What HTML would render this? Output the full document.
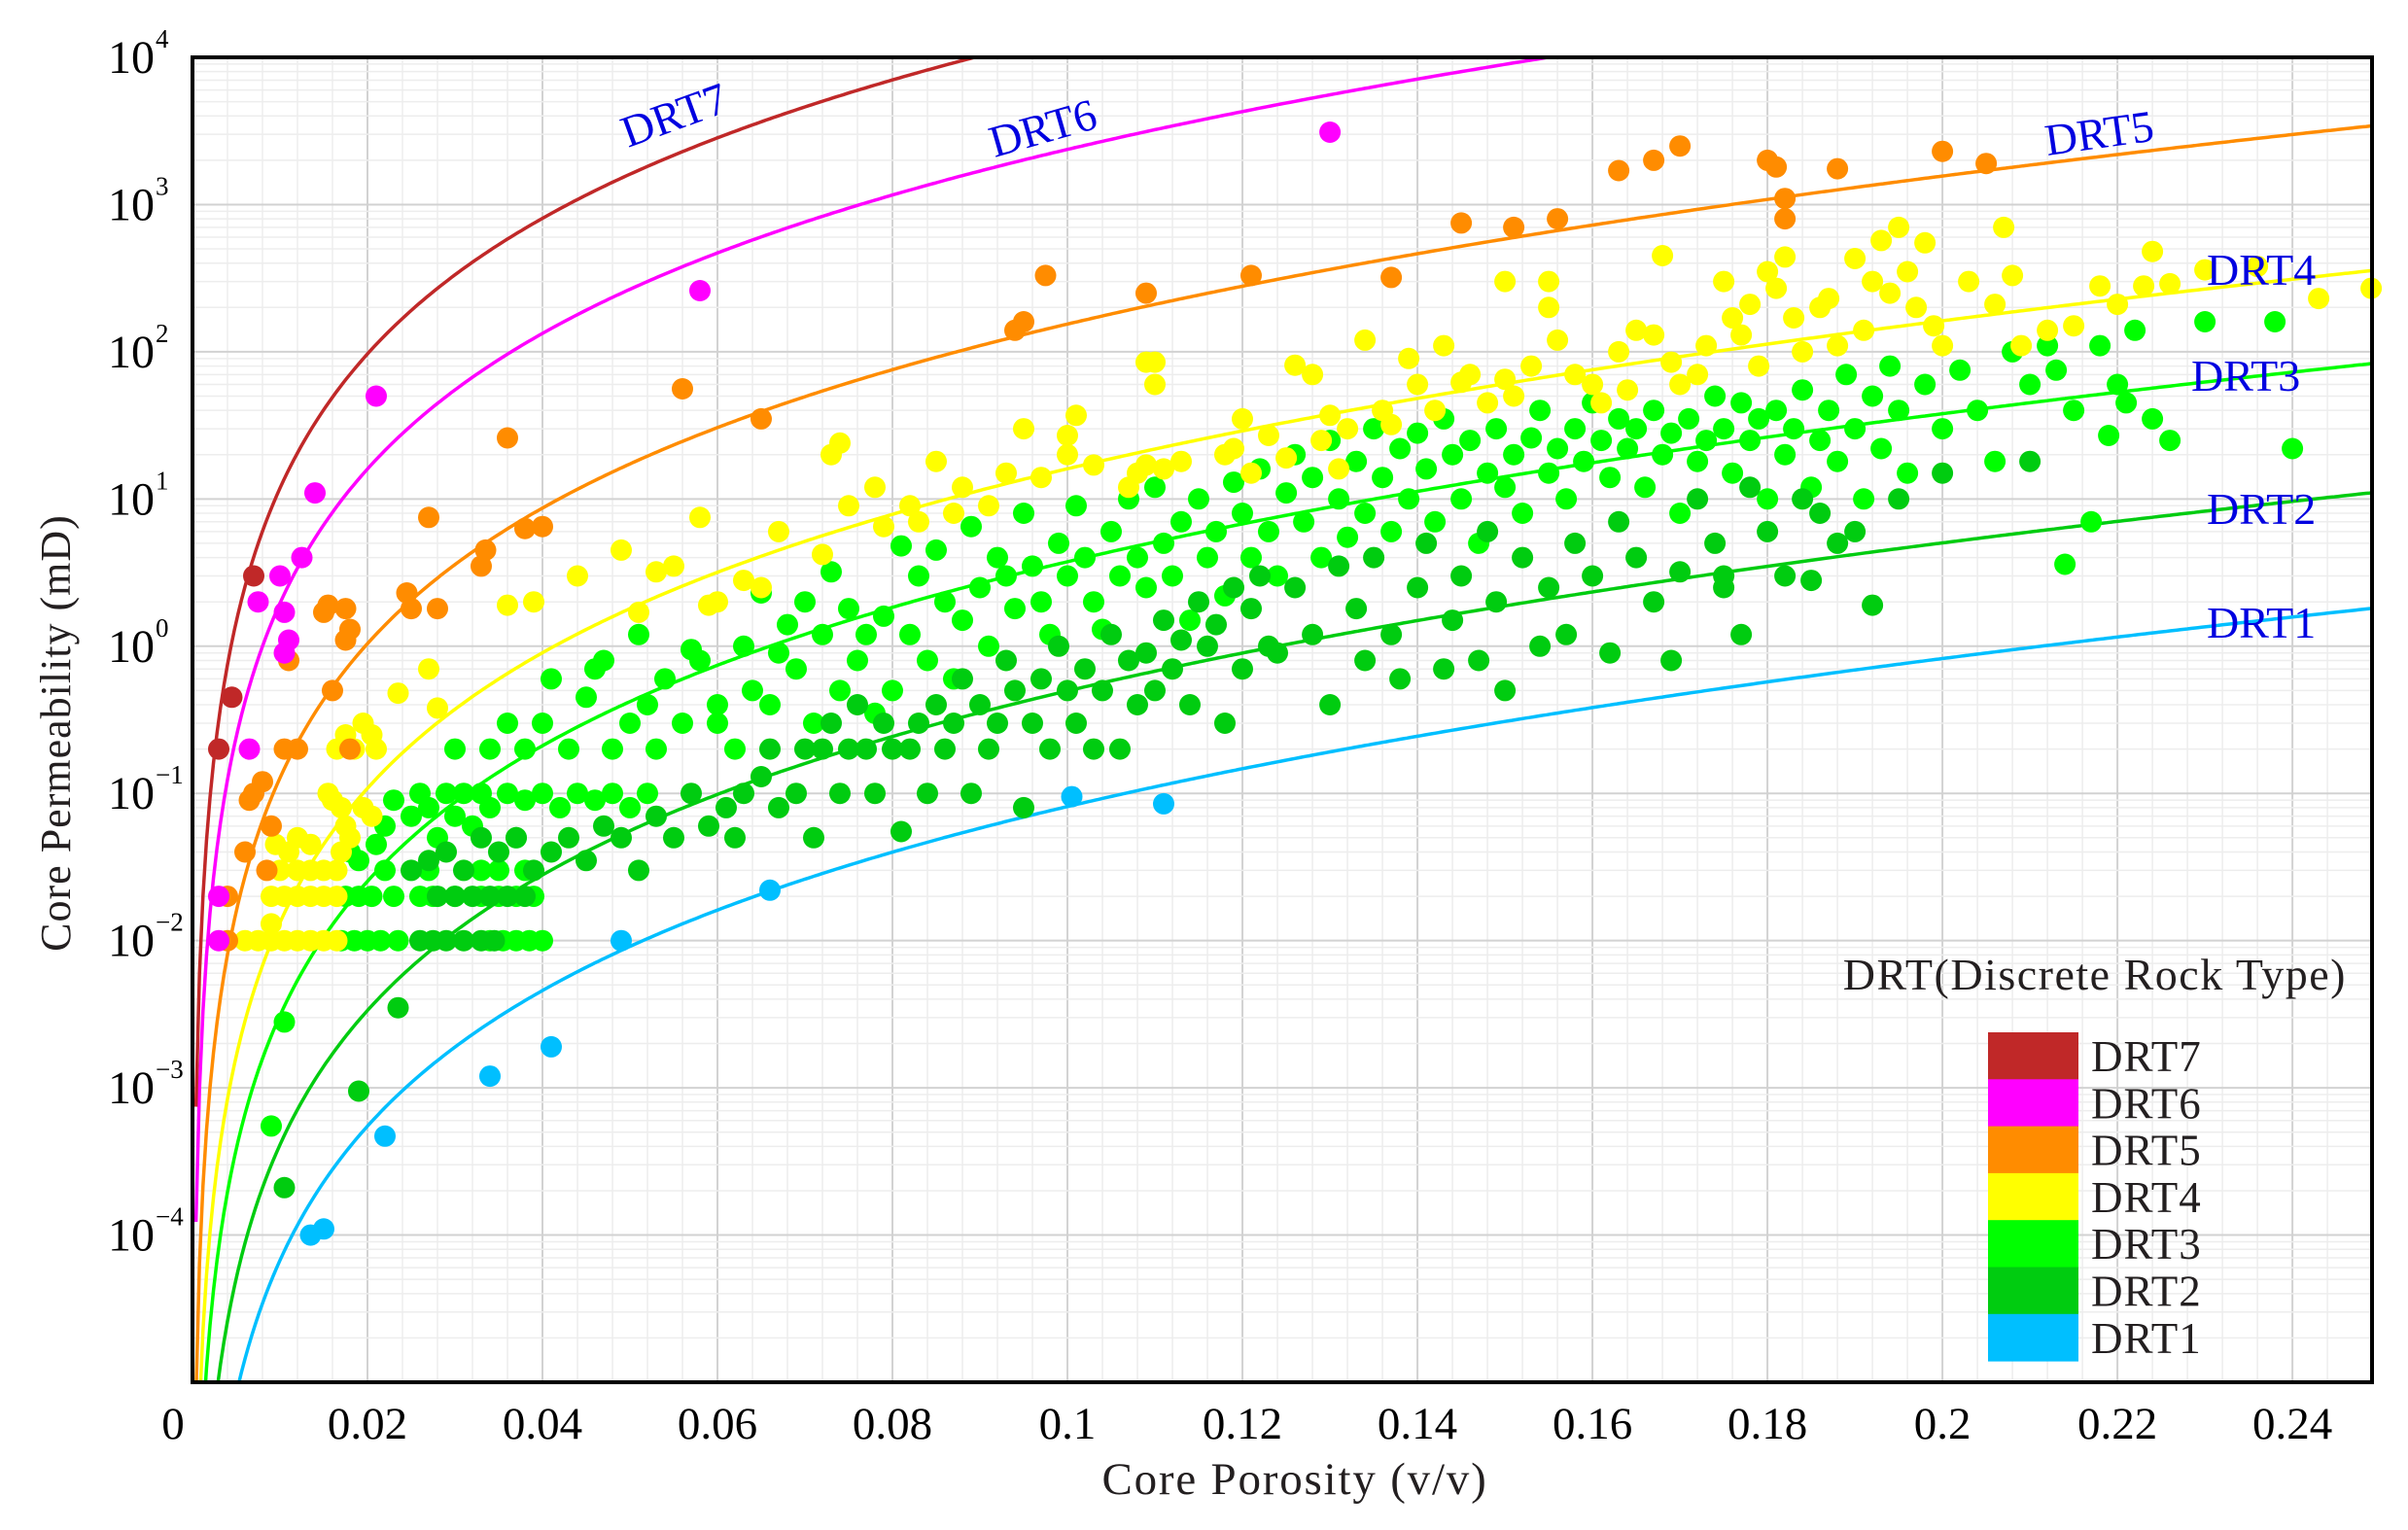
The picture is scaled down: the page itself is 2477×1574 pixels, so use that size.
<!DOCTYPE html>
<html><head><meta charset="utf-8"><style>
html,body{margin:0;padding:0;background:#fff;}
svg{display:block;font-family:"Liberation Serif",serif;}
</style></head><body>
<svg id="chart" width="2477" height="1574" viewBox="0 0 2477 1574" xmlns="http://www.w3.org/2000/svg">
<rect x="0" y="0" width="2477" height="1574" fill="#fff"/>
<g id="grid"></g>
<g id="curves"></g>
<g id="points"></g>
<g id="labels"></g>
<rect x="198" y="59" width="2242" height="1363" fill="none" stroke="#000" stroke-width="4"/>
<g id="ticks"></g>
<text x="1332" y="1537" font-size="47" text-anchor="middle" fill="#231f20" letter-spacing="1.8">Core Porosity (v/v)</text>
<text transform="translate(72,754) rotate(-90)" font-size="44" text-anchor="middle" fill="#231f20" letter-spacing="1">Core Permeability (mD)</text>
<g id="legend"></g>
</svg>
<script>
const xTicks=[0,0.02,0.04,0.06,0.08,0.1,0.12,0.14,0.16,0.18,0.2,0.22,0.24];
const xTickLabels=["0","0.02","0.04","0.06","0.08","0.1","0.12","0.14","0.16","0.18","0.2","0.22","0.24"];
const yTickExps=[4,3,2,1,0,-1,-2,-3,-4];
const classNames=["DRT1","DRT2","DRT3","DRT4","DRT5","DRT6","DRT7"];
const classColors=["#00bfff","#00cc10","#00ff00","#ffff00","#ff8c00","#ff00ff","#c02828"];
const fziValues=[0.255,0.63,1.73,3.58,11.1,43.5,107];
const drt7=[[0.003,0.2],[0.0045,0.45],[0.007,3]];
const drt6=[[0.003,0.01],[0.003,0.02],[0.0065,0.2],[0.0075,2],[0.01,3],[0.0105,1.7],[0.0105,0.9],[0.011,1.1],[0.0125,4],[0.014,11],[0.021,50],[0.058,260],[0.13,3100]];
const drt5=[[0.004,0.01],[0.004,0.02],[0.006,0.04],[0.0065,0.09],[0.0085,0.03],[0.009,0.06],[0.008,0.12],[0.007,0.1],[0.0105,0.2],[0.011,0.8],[0.012,0.2],[0.015,1.7],[0.0155,1.9],[0.016,0.5],[0.0175,1.8],[0.018,1.3],[0.0175,1.1],[0.018,0.2],[0.0245,2.3],[0.025,1.8],[0.027,7.5],[0.028,1.8],[0.033,3.5],[0.0335,4.5],[0.036,26],[0.038,6.3],[0.04,6.5],[0.056,56],[0.065,35],[0.094,140],[0.095,160],[0.0975,330],[0.109,250],[0.121,330],[0.137,320],[0.145,750],[0.151,700],[0.156,800],[0.163,1700],[0.167,2000],[0.17,2500],[0.18,2000],[0.181,1800],[0.182,1100],[0.182,800],[0.188,1750],[0.2,2300],[0.205,1900]];
const drt4=[[0.006,0.01],[0.0075,0.01],[0.009,0.01],[0.0105,0.01],[0.012,0.01],[0.0135,0.01],[0.015,0.01],[0.0165,0.01],[0.009,0.02],[0.0105,0.02],[0.012,0.02],[0.0135,0.02],[0.015,0.02],[0.0165,0.02],[0.01,0.03],[0.012,0.03],[0.0135,0.03],[0.015,0.03],[0.0165,0.03],[0.009,0.013],[0.0095,0.045],[0.011,0.04],[0.012,0.05],[0.0135,0.045],[0.017,0.04],[0.018,0.05],[0.0175,0.06],[0.0155,0.1],[0.016,0.09],[0.017,0.08],[0.0195,0.08],[0.0205,0.07],[0.0165,0.2],[0.0185,0.2],[0.0195,0.3],[0.0175,0.25],[0.021,0.2],[0.0205,0.25],[0.0235,0.48],[0.027,0.7],[0.028,0.38],[0.036,1.9],[0.039,2],[0.044,3],[0.049,4.5],[0.051,1.7],[0.053,3.2],[0.055,3.5],[0.058,7.5],[0.06,2],[0.059,1.9],[0.063,2.8],[0.065,2.5],[0.067,6],[0.072,4.2],[0.073,20],[0.074,24],[0.075,9],[0.078,12],[0.079,6.5],[0.082,9],[0.083,7],[0.085,18],[0.087,8],[0.088,12],[0.091,9],[0.093,15],[0.095,30],[0.097,14],[0.1,27],[0.1,20],[0.101,37],[0.103,17],[0.107,12],[0.108,15],[0.109,85],[0.11,85],[0.11,60],[0.109,17],[0.111,16],[0.113,18],[0.118,20],[0.119,22],[0.12,35],[0.121,15],[0.123,27],[0.125,19],[0.126,81],[0.128,70],[0.129,25],[0.13,37],[0.131,16],[0.132,30],[0.134,120],[0.136,40],[0.137,32],[0.139,90],[0.14,60],[0.142,40],[0.143,110],[0.145,62],[0.146,70],[0.148,45],[0.15,300],[0.15,65],[0.151,50],[0.153,80],[0.155,300],[0.155,200],[0.156,120],[0.158,70],[0.16,60],[0.161,45],[0.163,100],[0.164,55],[0.165,140],[0.167,130],[0.168,450],[0.169,85],[0.17,60],[0.172,70],[0.173,110],[0.175,300],[0.176,170],[0.177,130],[0.178,210],[0.179,80],[0.18,350],[0.181,270],[0.182,440],[0.183,170],[0.184,100],[0.186,200],[0.187,230],[0.188,110],[0.19,430],[0.191,140],[0.192,300],[0.193,570],[0.194,250],[0.195,700],[0.196,350],[0.197,200],[0.198,550],[0.199,150],[0.2,110],[0.203,300],[0.206,210],[0.207,700],[0.208,330],[0.209,110],[0.212,140],[0.215,150],[0.218,280],[0.22,210],[0.223,280],[0.224,480],[0.226,290],[0.23,360],[0.236,380],[0.243,230],[0.249,270]];
const drt3=[[0.009,5.5e-4],[0.0105,2.8e-3],[0.017,0.01],[0.0185,0.01],[0.02,0.01],[0.0215,0.01],[0.0235,0.01],[0.034,0.01],[0.0355,0.01],[0.037,0.01],[0.0385,0.01],[0.04,0.01],[0.0175,0.02],[0.019,0.02],[0.0205,0.02],[0.023,0.02],[0.026,0.02],[0.0275,0.02],[0.03,0.02],[0.033,0.02],[0.035,0.02],[0.037,0.02],[0.039,0.02],[0.022,0.03],[0.027,0.03],[0.033,0.03],[0.035,0.03],[0.038,0.03],[0.018,0.04],[0.019,0.035],[0.021,0.045],[0.022,0.06],[0.023,0.09],[0.025,0.07],[0.026,0.1],[0.027,0.08],[0.028,0.05],[0.029,0.1],[0.03,0.07],[0.031,0.1],[0.032,0.06],[0.033,0.1],[0.034,0.08],[0.036,0.1],[0.037,0.05],[0.038,0.09],[0.04,0.1],[0.042,0.08],[0.044,0.1],[0.046,0.09],[0.048,0.1],[0.05,0.08],[0.052,0.1],[0.03,0.2],[0.034,0.2],[0.036,0.3],[0.038,0.2],[0.04,0.3],[0.041,0.6],[0.043,0.2],[0.045,0.45],[0.046,0.7],[0.047,0.8],[0.048,0.2],[0.05,0.3],[0.051,1.2],[0.052,0.4],[0.053,0.2],[0.054,0.6],[0.056,0.3],[0.057,0.95],[0.058,0.8],[0.06,0.4],[0.06,0.3],[0.062,0.2],[0.063,1.0],[0.064,0.5],[0.065,2.3],[0.066,0.4],[0.067,0.9],[0.068,1.4],[0.069,0.7],[0.07,2],[0.071,0.3],[0.072,1.2],[0.073,3.2],[0.074,0.5],[0.075,1.8],[0.076,0.8],[0.077,1.2],[0.078,0.35],[0.079,1.6],[0.08,0.5],[0.081,4.8],[0.082,1.2],[0.083,3],[0.084,0.8],[0.085,4.5],[0.086,2],[0.087,0.6],[0.088,1.5],[0.089,6.5],[0.09,2.5],[0.091,1],[0.092,4],[0.093,3],[0.094,1.8],[0.095,8],[0.096,3.5],[0.097,2],[0.098,1.2],[0.099,5],[0.1,3],[0.101,9],[0.102,4],[0.103,2],[0.104,1.3],[0.105,6],[0.106,3],[0.107,10],[0.108,4],[0.109,2.5],[0.11,12],[0.111,5],[0.112,3],[0.113,7],[0.114,1.5],[0.115,10],[0.116,4],[0.117,6],[0.118,2.2],[0.119,13],[0.12,8],[0.121,4],[0.122,16],[0.123,6],[0.124,3],[0.125,11],[0.126,20],[0.127,7],[0.128,14],[0.129,4],[0.13,25],[0.131,10],[0.132,5.5],[0.133,18],[0.134,8],[0.135,30],[0.136,14],[0.137,6],[0.138,22],[0.139,10],[0.14,28],[0.141,16],[0.142,7],[0.143,35],[0.144,20],[0.145,10],[0.146,25],[0.147,5],[0.148,15],[0.149,30],[0.15,12],[0.151,20],[0.152,8],[0.153,26],[0.154,40],[0.155,15],[0.156,22],[0.157,10],[0.158,30],[0.159,18],[0.16,45],[0.161,25],[0.162,14],[0.163,35],[0.164,22],[0.165,30],[0.166,12],[0.167,40],[0.168,20],[0.169,28],[0.17,8],[0.171,35],[0.172,18],[0.173,25],[0.174,50],[0.175,30],[0.176,15],[0.177,45],[0.178,25],[0.179,35],[0.18,10],[0.181,40],[0.182,20],[0.183,30],[0.184,55],[0.185,12],[0.186,25],[0.187,40],[0.188,18],[0.189,70],[0.19,30],[0.191,10],[0.192,50],[0.193,22],[0.194,80],[0.195,40],[0.196,15],[0.198,60],[0.2,30],[0.202,75],[0.204,40],[0.206,18],[0.208,100],[0.21,60],[0.212,110],[0.213,75],[0.215,40],[0.218,110],[0.22,60],[0.221,45],[0.222,140],[0.224,35],[0.226,25],[0.23,160],[0.238,160],[0.24,22],[0.219,27],[0.217,7],[0.214,3.6]];
const drt2=[[0.0105,2.1e-4],[0.019,9.5e-4],[0.0235,3.5e-3],[0.026,0.01],[0.0275,0.01],[0.029,0.01],[0.031,0.01],[0.033,0.01],[0.0345,0.01],[0.028,0.02],[0.03,0.02],[0.032,0.02],[0.034,0.02],[0.036,0.02],[0.038,0.02],[0.025,0.03],[0.027,0.035],[0.029,0.04],[0.031,0.03],[0.033,0.05],[0.035,0.04],[0.037,0.05],[0.039,0.03],[0.041,0.04],[0.043,0.05],[0.045,0.035],[0.047,0.06],[0.049,0.05],[0.051,0.03],[0.053,0.07],[0.055,0.05],[0.057,0.1],[0.059,0.06],[0.061,0.08],[0.062,0.05],[0.063,0.1],[0.065,0.13],[0.066,0.2],[0.067,0.08],[0.069,0.1],[0.07,0.2],[0.071,0.05],[0.072,0.2],[0.073,0.3],[0.074,0.1],[0.075,0.2],[0.076,0.4],[0.077,0.2],[0.078,0.1],[0.079,0.3],[0.08,0.2],[0.081,0.055],[0.082,0.2],[0.083,0.3],[0.084,0.1],[0.085,0.4],[0.086,0.2],[0.087,0.3],[0.088,0.6],[0.089,0.1],[0.09,0.4],[0.091,0.2],[0.092,0.3],[0.093,0.8],[0.094,0.5],[0.095,0.08],[0.096,0.3],[0.097,0.6],[0.098,0.2],[0.099,1],[0.1,0.5],[0.101,0.3],[0.102,0.7],[0.103,0.2],[0.104,0.5],[0.105,1.2],[0.106,0.2],[0.107,0.8],[0.108,0.4],[0.109,0.9],[0.11,0.5],[0.111,1.5],[0.112,0.7],[0.113,1.1],[0.114,0.4],[0.115,2],[0.116,1],[0.117,1.4],[0.118,0.3],[0.119,2.5],[0.12,0.7],[0.121,1.8],[0.122,3],[0.123,1],[0.124,0.9],[0.126,2.5],[0.128,1.2],[0.13,0.4],[0.131,3.5],[0.133,1.8],[0.134,0.8],[0.135,4],[0.137,1.2],[0.138,0.6],[0.14,2.5],[0.141,5],[0.143,0.7],[0.144,1.5],[0.145,3],[0.147,0.8],[0.148,6],[0.149,2],[0.15,0.5],[0.152,4],[0.154,1],[0.155,2.5],[0.157,1.2],[0.158,5],[0.16,3],[0.162,0.9],[0.163,7],[0.165,4],[0.167,2],[0.169,0.8],[0.17,3.2],[0.172,10],[0.174,5],[0.175,2.5],[0.177,1.2],[0.178,12],[0.18,6],[0.182,3],[0.184,10],[0.186,8],[0.188,5],[0.19,6],[0.192,1.9],[0.185,2.8],[0.175,3],[0.195,10],[0.21,18],[0.2,15]];
const drt1=[[0.0135,1e-4],[0.015,1.1e-4],[0.022,4.7e-4],[0.034,1.2e-3],[0.041,1.9e-3],[0.049,0.01],[0.066,0.022],[0.1005,0.095],[0.111,0.085]];
const labelNames=["DRT7","DRT6","DRT5","DRT4","DRT3","DRT2","DRT1"];

const NS="http://www.w3.org/2000/svg";
const X0=198,X1=2440,Y0=59,Y1=1422,XMIN=0,XMAX=0.2491,LMIN=-5,LMAX=4;
function sx(v){return X0+(v-XMIN)/(XMAX-XMIN)*(X1-X0);}
function sy(k){return Y0+(LMAX-Math.log10(k))/(LMAX-LMIN)*(Y1-Y0);}
function mk(tag,attrs,parent){const e=document.createElementNS(NS,tag);for(const a in attrs)e.setAttribute(a,attrs[a]);parent.appendChild(e);return e;}

const grid=document.getElementById('grid');
for(let i=1;i<62;i++){const v=i*0.004;const x=sx(v);if(x>=X1)break;
  const major=(i%5===0);
  const l=mk('line',{x1:x,x2:x,y1:Y0,y2:Y1,stroke:major?'#d2d2d2':'#ededed','stroke-width':major?2:1.5},grid);
  
  }
for(let d=LMIN;d<LMAX;d++){for(let m=1;m<10;m++){const k=m*Math.pow(10,d);const y=sy(k);
  const major=(m===1);if(major&&d===LMIN)continue;
  const l=mk('line',{x1:X0,x2:X1,y1:y,y2:y,stroke:major?'#d2d2d2':'#ededed','stroke-width':major?2:1.5},grid);
  
  }}

const defs=mk('defs',{},document.getElementById('chart'));
const cp=mk('clipPath',{id:'clip'},defs);mk('rect',{x:X0,y:Y0,width:X1-X0,height:Y1-Y0},cp);

const curves=document.getElementById('curves');curves.setAttribute('clip-path','url(#clip)');
fziValues.forEach((f,i)=>{let d='';
  for(let p=0.0004;p<=XMAX+0.001;p+=0.0004){const k=1014*f*f*p*p*p/((1-p)*(1-p));
    let y=sy(k);y=Math.max(Y0-50,Math.min(Y1+50,y));d+=(d?'L':'M')+sx(p).toFixed(1)+','+y.toFixed(1);}
  const pth=mk('path',{d:d,fill:'none',stroke:classColors[i],'stroke-width':3.5},curves);
  
  });

const pts=document.getElementById('points');
const series=[drt3,drt2,drt4,drt5,drt6,drt7,drt1];
const seriesIdx=[2,1,3,4,5,6,0];
series.forEach((arr,si)=>{const ci=seriesIdx[si];arr.forEach(p=>{
  const c=mk('circle',{cx:sx(p[0]).toFixed(1),cy:sy(p[1]).toFixed(1),r:11,fill:classColors[ci]},pts);
  
  });});

const labels=document.getElementById('labels');
const labelPos=[[646,152,-20],[1023,162,-16],[2106,160,-8],[2270,293,0],[2254,402,0],[2270,539,0],[2270,656,0]];
labelNames.forEach((n,i)=>{const p=labelPos[i];
  const t=mk('text',{transform:`translate(${p[0]},${p[1]}) rotate(${p[2]})`,'font-size':46,fill:'#0000e0'},labels);
  t.textContent=n;
  
  });

const ticks=document.getElementById('ticks');
xTicks.forEach((v,i)=>{const t=mk('text',{x:sx(v)-(i===0?20:0),y:1480,'font-size':47,'text-anchor':'middle',fill:'#000'},ticks);
  t.textContent=xTickLabels[i];
  
  });
yTickExps.forEach(e=>{const y=sy(Math.pow(10,e));
  const t=mk('text',{x:159,y:y+16,'font-size':48,'text-anchor':'end',fill:'#000'},ticks);
  t.textContent='10';
  
  
  const s=mk('text',{x:160,y:y-10,'font-size':27,'text-anchor':'start',fill:'#000'},ticks);
  s.textContent=(e<0?'\u2212':'')+Math.abs(e);
  
  });

const legend=document.getElementById('legend');
const lt=mk('text',{x:2414,y:1018,'font-size':46,'text-anchor':'end',fill:'#231f20','letter-spacing':1.5},legend);
lt.textContent='DRT(Discrete Rock Type)';


labelNames.forEach((n,i)=>{const ci=classNames.indexOf(n);const y=1062+i*48.3;
  const r=mk('rect',{x:2045,y:y,width:93,height:48.8,fill:classColors[ci]},legend);
  
  
  const t=mk('text',{x:2151,y:y+40,'font-size':45,fill:'#231f20','letter-spacing':1},legend);
  t.textContent=n;
  
  });
</script>
</body></html>
